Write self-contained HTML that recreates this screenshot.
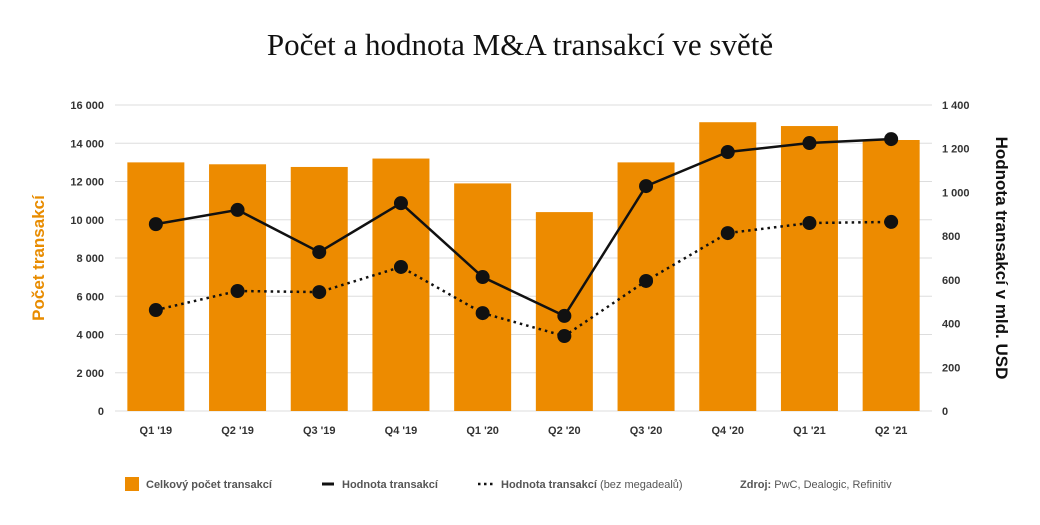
<!DOCTYPE html>
<html><head><meta charset="utf-8"><style>
body{margin:0;background:#fff;width:1040px;height:520px;overflow:hidden;font-family:"Liberation Sans",sans-serif}
</style></head><body>
<svg id="chart" width="1040" height="520" xmlns="http://www.w3.org/2000/svg">
<text x="520" y="55" text-anchor="middle" font-family="Liberation Serif, serif" font-size="31" fill="#111">Počet a hodnota M&amp;A transakcí ve světě</text>
<g id="grid"></g><g id="bars"></g><g id="lines"></g><g id="axes"></g>
<text transform="translate(44,258) rotate(-90)" text-anchor="middle" font-size="17" font-weight="bold" fill="#e88c00">Počet transakcí</text>
<text transform="translate(996,258) rotate(90)" text-anchor="middle" font-size="17" font-weight="bold" fill="#111">Hodnota transakcí v mld. USD</text>
<g font-size="11" fill="#555">
<rect x="125" y="477" width="14" height="14" fill="#ed8b00"/>
<text x="146" y="488" font-weight="bold">Celkový počet transakcí</text>
<line x1="322" y1="484" x2="334" y2="484" stroke="#111" stroke-width="3"/>
<text x="342" y="488" font-weight="bold">Hodnota transakcí</text>
<line x1="478" y1="484" x2="494" y2="484" stroke="#111" stroke-width="2.5" stroke-dasharray="2.5,3.5"/>
<text x="501" y="488"><tspan font-weight="bold">Hodnota transakcí</tspan> (bez megadealů)</text>
<text x="740" y="488"><tspan font-weight="bold">Zdroj:</tspan> PwC, Dealogic, Refinitiv</text>
</g>
</svg>
<script>
const categories=["Q1 '19","Q2 '19","Q3 '19","Q4 '19","Q1 '20","Q2 '20","Q3 '20","Q4 '20","Q1 '21","Q2 '21"];
const dealCounts=[13000,12900,12760,13200,11900,10400,13000,15100,14900,14170];
const valueTotal=[855,920,727,951,613,435,1029,1185,1226,1244];
const valueExMega=[462,549,544,659,448,343,595,814,860,865];
const leftTicks=[0,2000,4000,6000,8000,10000,12000,14000,16000];
const rightTicks=[0,200,400,600,800,1000,1200,1400];
const NS="http://www.w3.org/2000/svg";
const x0=115,x1=932,yB=411,yT=105;
const band=(x1-x0)/categories.length;
const xC=i=>x0+band*(i+0.5);
const yL=v=>yB-(v/16000)*(yB-yT);
const yR=v=>yB-(v/1400)*(yB-yT);
function mk(t,a,p){const e=document.createElementNS(NS,t);for(const k in a)e.setAttribute(k,a[k]);p.appendChild(e);return e;}
const fmt=v=>v>=1000?Math.floor(v/1000)+" "+String(v%1000).padStart(3,"0"):String(v);
const grid=document.getElementById('grid'),axes=document.getElementById('axes');
leftTicks.forEach(v=>{
 const l=mk('line',{x1:x0,x2:x1,y1:yL(v),y2:yL(v),stroke:'#ddd','stroke-width':1},grid);
 
 const t=mk('text',{x:104,y:yL(v)+4,'text-anchor':'end','font-size':11,'font-weight':'bold',fill:'#333'},axes);
 t.textContent=fmt(v);
});
rightTicks.forEach(v=>{
 const t=mk('text',{x:942,y:yR(v)+4,'text-anchor':'start','font-size':11,'font-weight':'bold',fill:'#333'},axes);
 t.textContent=fmt(v);
});
const bars=document.getElementById('bars');
categories.forEach((c,i)=>{
 const b=mk('rect',{x:xC(i)-28.5,y:yL(dealCounts[i]),width:57,height:yB-yL(dealCounts[i]),fill:'#ed8b00'},bars);
 
 const t=mk('text',{x:xC(i),y:434,'text-anchor':'middle','font-size':11,'font-weight':'bold',fill:'#333'},axes);
 t.textContent=c;
});
const lines=document.getElementById('lines');
function series(vals,name,dash){
 const p=mk('polyline',{points:vals.map((v,i)=>xC(i)+','+yR(v)).join(' '),fill:'none',stroke:'#111','stroke-width':dash?2.5:2.5},lines);
 if(dash)p.setAttribute('stroke-dasharray','2.5,4');
 
 vals.forEach((v,i)=>{const c=mk('circle',{cx:xC(i),cy:yR(v),r:7,fill:'#111'},lines);
  });
}
series(valueTotal,'value-total',false);
series(valueExMega,'value-ex-mega',true);
</script>
</body></html>
